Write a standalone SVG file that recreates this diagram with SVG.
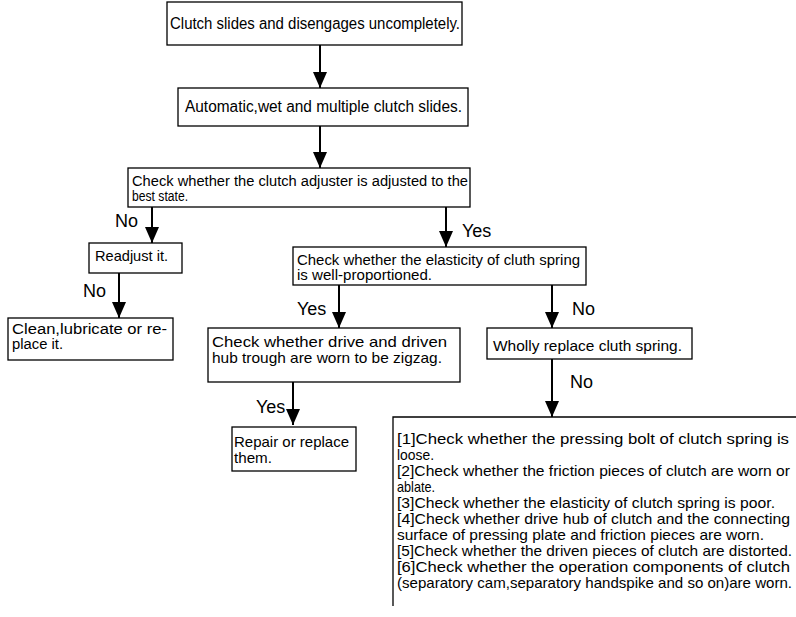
<svg xmlns="http://www.w3.org/2000/svg" width="796" height="617" viewBox="0 0 796 617">
<style>
.box{fill:#fff;stroke:#000;stroke-width:1.3}
.t{font-family:"Liberation Sans",Arial,sans-serif;font-size:15px;fill:#000}
.s{font-size:14px}
.lb{font-family:"Liberation Sans",Arial,sans-serif;font-size:18px;fill:#000}
.c{stroke:#000;stroke-width:2;fill:none;marker-end:url(#ah)}
</style>
<defs>
<marker id="ah" markerUnits="userSpaceOnUse" markerWidth="16" markerHeight="14" refX="16" refY="7" orient="auto" viewBox="0 0 16 14">
<path d="M0,0 L16,7 L0,14 Z" fill="#000"/>
</marker>
</defs>
<rect width="796" height="617" fill="#fff"/>
<g id="connectors">
<line class="c" x1="320" y1="45" x2="320" y2="88"/>
<line class="c" x1="320" y1="126" x2="320" y2="168"/>
<line class="c" x1="152" y1="207" x2="152" y2="243"/>
<line class="c" x1="446" y1="207" x2="446" y2="247"/>
<line class="c" x1="119" y1="273" x2="119" y2="318"/>
<line class="c" x1="339" y1="285" x2="339" y2="328"/>
<line class="c" x1="552" y1="285" x2="552" y2="328"/>
<line class="c" x1="293" y1="382" x2="293" y2="425"/>
<line class="c" x1="552" y1="359" x2="552" y2="417"/>
<text class="lb" x="115" y="227">No</text>
<text class="lb" x="462" y="237">Yes</text>
<text class="lb" x="83" y="297">No</text>
<text class="lb" x="297" y="315">Yes</text>
<text class="lb" x="572" y="315">No</text>
<text class="lb" x="570" y="388">No</text>
<text class="lb" x="256" y="413">Yes</text>
</g>
<g id="n1">
<rect class="box" x="167" y="2" width="295" height="43"/>
<text class="t" x="170" y="29" textLength="290" lengthAdjust="spacingAndGlyphs" style="font-size:16px">Clutch slides and disengages uncompletely.</text>
</g>
<g id="n2">
<rect class="box" x="178" y="88" width="290" height="38"/>
<text class="t" x="185" y="112" textLength="277" lengthAdjust="spacingAndGlyphs" style="font-size:16px">Automatic,wet and multiple clutch slides.</text>
</g>
<g id="n3">
<rect class="box" x="128" y="168" width="342" height="39"/>
<text class="t s" x="132" y="186" textLength="336" lengthAdjust="spacingAndGlyphs">Check whether the clutch adjuster is adjusted to the</text>
<text class="t s" x="132" y="201" textLength="56" lengthAdjust="spacingAndGlyphs">best state.</text>
</g>
<g id="n4">
<rect class="box" x="89" y="243" width="93" height="30"/>
<text class="t" x="95" y="261" textLength="73" lengthAdjust="spacingAndGlyphs">Readjust it.</text>
</g>
<g id="n5">
<rect class="box" x="8" y="318" width="165" height="42"/>
<text class="t s" x="12" y="334" textLength="155" lengthAdjust="spacingAndGlyphs">Clean,lubricate or re-</text>
<text class="t s" x="12" y="349" textLength="51" lengthAdjust="spacingAndGlyphs">place it.</text>
</g>
<g id="n6">
<rect class="box" x="293" y="247" width="293" height="38"/>
<text class="t s" x="297" y="265" textLength="283" lengthAdjust="spacingAndGlyphs">Check whether the elasticity of cluth spring</text>
<text class="t s" x="297" y="280" textLength="135" lengthAdjust="spacingAndGlyphs">is well-proportioned.</text>
</g>
<g id="n7">
<rect class="box" x="208" y="328" width="252" height="54"/>
<text class="t" x="212" y="347" textLength="235" lengthAdjust="spacingAndGlyphs">Check whether drive and driven</text>
<text class="t" x="212" y="363" textLength="230" lengthAdjust="spacingAndGlyphs">hub trough are worn to be zigzag.</text>
</g>
<g id="n8">
<rect class="box" x="487" y="328" width="205" height="31"/>
<text class="t" x="493" y="351" textLength="189" lengthAdjust="spacingAndGlyphs">Wholly replace cluth spring.</text>
</g>
<g id="n9">
<rect class="box" x="232" y="427" width="124" height="44"/>
<text class="t" x="234" y="447" textLength="115" lengthAdjust="spacingAndGlyphs">Repair or replace</text>
<text class="t" x="234" y="463" textLength="38" lengthAdjust="spacingAndGlyphs">them.</text>
</g>
<g id="n10">
<path d="M796,417 H393 V606" fill="none" stroke="#000" stroke-width="1.3"/>
<text class="t" x="397" y="444" textLength="392" lengthAdjust="spacingAndGlyphs">[1]Check whether the pressing bolt of clutch spring is</text>
<text class="t" x="397" y="460" textLength="37" lengthAdjust="spacingAndGlyphs">loose.</text>
<text class="t" x="397" y="476" textLength="393" lengthAdjust="spacingAndGlyphs">[2]Check whether the friction pieces of clutch are worn or</text>
<text class="t" x="397" y="492" textLength="38" lengthAdjust="spacingAndGlyphs">ablate.</text>
<text class="t" x="397" y="508" textLength="378" lengthAdjust="spacingAndGlyphs">[3]Check whether the elasticity of clutch spring is poor.</text>
<text class="t" x="397" y="524" textLength="393" lengthAdjust="spacingAndGlyphs">[4]Check whether drive hub of clutch and the connecting</text>
<text class="t" x="397" y="540" textLength="367" lengthAdjust="spacingAndGlyphs">surface of pressing plate and friction pieces are worn.</text>
<text class="t" x="397" y="556" textLength="395" lengthAdjust="spacingAndGlyphs">[5]Check whether the driven pieces of clutch are distorted.</text>
<text class="t" x="397" y="572" textLength="393" lengthAdjust="spacingAndGlyphs">[6]Check whether the operation components of clutch</text>
<text class="t" x="397" y="588" textLength="395" lengthAdjust="spacingAndGlyphs">(separatory cam,separatory handspike and so on)are worn.</text>
</g>
</svg>
